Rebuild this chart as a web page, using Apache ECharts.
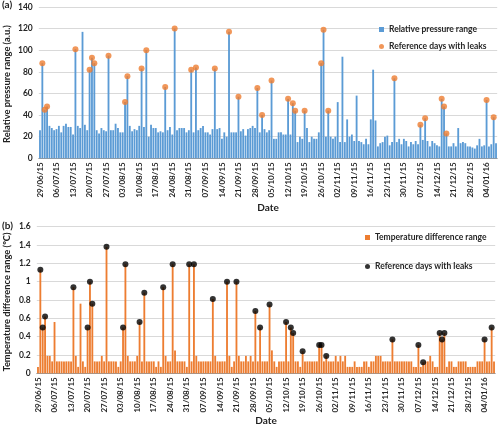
<!DOCTYPE html>
<html><head><meta charset="utf-8">
<script src="https://cdn.jsdelivr.net/npm/echarts/dist/echarts.min.js"></script>
<style>html,body{margin:0;padding:0;background:#fff}#c{width:500px;height:427px}</style>
</head><body><div id="c"></div>
<script>
// ---- data ----
const firstDay = '2015-06-29';
const dayCount = 194;
const pressureRange = [
26,88,45,48,30,28,26,27,30,24,30,32,29,29,22,101,30,28,117,31,26,82,93,88,26,23,28,26,25,95,
26,26,32,28,24,24,52,76,30,25,27,26,30,83,29,100,20,31,28,28,24,25,24,66,26,29,22,120,26,28,
28,28,24,26,82,24,84,26,28,30,24,24,22,27,83,27,28,18,24,20,117,24,24,24,57,25,27,21,27,28,
30,28,65,24,40,27,24,26,72,18,18,24,24,22,22,55,22,51,44,15,20,18,44,28,15,20,18,18,24,88,
119,20,44,20,18,20,52,15,94,15,36,20,22,16,58,16,15,13,18,13,36,82,35,11,14,15,20,21,12,15,
74,15,18,13,18,16,11,15,13,16,13,31,17,37,16,11,16,14,12,11,55,48,23,11,11,14,11,28,14,15,
14,11,11,10,9,12,18,11,12,54,11,13,38,14];
const tempRange = [
0.07,1.13,0.50,0.62,0.19,0.19,0.13,0.56,0.13,0.13,0.13,0.13,0.13,0.13,0.13,0.94,0.19,0.07,0.76,0.13,
0.07,0.50,1.00,0.76,0.13,0.13,0.13,0.19,0.13,1.38,0.13,0.13,0.13,0.13,0.07,0.13,0.50,1.19,0.19,0.13,
0.13,0.13,0.19,0.56,0.13,0.88,0.13,0.13,0.13,0.13,0.07,0.13,0.07,0.94,0.19,0.13,0.13,1.19,0.25,0.13,
0.13,0.13,0.13,0.07,1.19,0.13,1.19,0.19,0.13,0.13,0.13,0.13,0.13,0.13,0.81,0.19,0.13,0.13,0.13,0.13,
1.00,0.19,0.07,0.13,1.00,0.19,0.13,0.13,0.19,0.13,0.19,0.13,0.68,0.13,0.50,0.13,0.13,0.13,0.75,0.25,
0.13,0.07,0.13,0.13,0.13,0.56,0.13,0.50,0.44,0.13,0.13,0.07,0.24,0.13,0.13,0.13,0.13,0.13,0.13,0.31,
0.31,0.13,0.19,0.13,0.13,0.13,0.19,0.13,0.19,0.13,0.19,0.07,0.07,0.07,0.13,0.07,0.07,0.07,0.13,0.13,
0.07,0.13,0.13,0.19,0.19,0.19,0.13,0.13,0.13,0.13,0.37,0.13,0.13,0.13,0.13,0.13,0.13,0.13,0.13,0.07,
0.07,0.31,0.07,0.12,0.13,0.13,0.19,0.13,0.07,0.07,0.44,0.37,0.44,0.07,0.13,0.13,0.07,0.07,0.13,0.13,
0.13,0.13,0.07,0.07,0.07,0.07,0.13,0.13,0.13,0.37,0.13,0.13,0.50,0.13];
const leakDays = ['30/06/15','01/07/15','02/07/15','14/07/15','20/07/15','21/07/15','22/07/15','28/07/15',
'04/08/15','05/08/15','11/08/15','13/08/15','21/08/15','25/08/15','01/09/15','03/09/15','11/09/15',
'17/09/15','21/09/15','29/09/15','01/10/15','05/10/15','12/10/15','14/10/15','15/10/15','19/10/15',
'26/10/15','27/10/15','29/10/15','26/11/15','07/12/15','09/12/15','16/12/15','17/12/15','18/12/15',
'04/01/16','07/01/16'];
const pressureTicks = [0,20,40,60,80,100,120,140];
const tempTicks = [0,0.2,0.4,0.6,0.8,1,1.2,1.4,1.6];

// ---- build ----
function pad(n){return (n<10?'0':'')+n;}
const dates = [];
const t0 = Date.parse(firstDay+'T00:00:00Z');
for (let i=0;i<dayCount;i++){
  const d = new Date(t0 + i*86400000);
  dates.push(pad(d.getUTCDate())+'/'+pad(d.getUTCMonth()+1)+'/'+String(d.getUTCFullYear()).slice(2));
}
const leakPressure = leakDays.map(d=>{const i=dates.indexOf(d);return [i, pressureRange[i]];});
const leakTemp = leakDays.map(d=>{const i=dates.indexOf(d);return [i, tempRange[i]];});

const FONT = 'Lato';
const txt = {fontFamily:FONT, fontWeight:'bold', color:'#262626', fontSize:8};

function xAx(gi){
  return {type:'category', gridIndex:gi, data:dates, boundaryGap:true,
    axisLine:{lineStyle:{color:'#999',width:1}},
    axisTick:{interval:6, alignWithLabel:true, length:3, lineStyle:{color:'#999'}},
    axisLabel:Object.assign({interval:6, rotate:90, margin:4}, txt),
    splitLine:{show:false}};
}
function yAx(gi,max,interval){
  return {type:'value', gridIndex:gi, min:0, max:max, interval:interval,
    axisLine:{show:false}, axisTick:{show:false},
    axisLabel:Object.assign({margin:6}, txt, {fontSize:8.5}),
    splitLine:{lineStyle:{color:'#D9D9D9',width:1}}};
}

const chart = echarts.init(document.getElementById('c'), null, {renderer:'canvas'});
chart.setOption({
  animation:false,
  backgroundColor:'#fff',
  grid:[
    {left:38.8, top:7, width:458.4, height:151.3, containLabel:false},
    {left:36.8, top:226.7, width:458.4, height:146.6, containLabel:false}
  ],
  xAxis:[xAx(0), xAx(1)],
  yAxis:[yAx(0,pressureTicks[pressureTicks.length-1],20), yAx(1,tempTicks[tempTicks.length-1],0.2)],
  legend:[
    {left:374, top:20, orient:'vertical', itemWidth:5, itemHeight:5, itemGap:8, selectedMode:false,
     textStyle:Object.assign({}, txt, {fontSize:8.5}),
     data:[{name:'Relative pressure range', icon:'rect'},{name:'Reference days with leaks', icon:'circle'}]},
    {left:360, top:228, orient:'vertical', itemWidth:5, itemHeight:5, itemGap:20, selectedMode:false,
     textStyle:Object.assign({}, txt, {fontSize:8.5}),
     data:[{name:'Temperature difference range', icon:'rect'},{name:'Reference days with leaks ', icon:'circle'}]}
  ],
  series:[
    {name:'Relative pressure range', type:'bar', xAxisIndex:0, yAxisIndex:0, data:pressureRange,
     barCategoryGap:'22%', itemStyle:{color:'#5B9BD5'}},
    {name:'Reference days with leaks', type:'scatter', xAxisIndex:0, yAxisIndex:0, data:leakPressure,
     symbol:'circle', symbolSize:6, itemStyle:{color:'#ED7D31'}, z:5},
    {name:'Temperature difference range', type:'bar', xAxisIndex:1, yAxisIndex:1, data:tempRange,
     barCategoryGap:'22%', itemStyle:{color:'#ED7D31'}},
    {name:'Reference days with leaks ', type:'scatter', xAxisIndex:1, yAxisIndex:1, data:leakTemp,
     symbol:'circle', symbolSize:6, itemStyle:{color:'#000'}, z:5}
  ],
  graphic:[
    {type:'text', left:2, top:0, style:{text:'(a)', font:'bold 10px Lato', fill:'#222'}},
    {type:'text', left:2, top:221, style:{text:'(b)', font:'bold 10px Lato', fill:'#222'}},
    {type:'text', x:7, y:84, rotation:Math.PI/2,
     style:{text:'Relative pressure range (a.u.)', font:'bold 9.3px Lato', fill:'#222', align:'center', verticalAlign:'middle'}},
    {type:'text', x:7, y:302, rotation:Math.PI/2,
     style:{text:'Temperature difference range (ºC)', font:'bold 9.3px Lato', fill:'#222', align:'center', verticalAlign:'middle'}},
    {type:'text', x:268, y:208, style:{text:'Date', font:'bold 10px Lato', fill:'#222', align:'center', verticalAlign:'middle'}},
    {type:'text', x:266, y:421, style:{text:'Date', font:'bold 10px Lato', fill:'#222', align:'center', verticalAlign:'middle'}}
  ]
});
</script></body></html>
